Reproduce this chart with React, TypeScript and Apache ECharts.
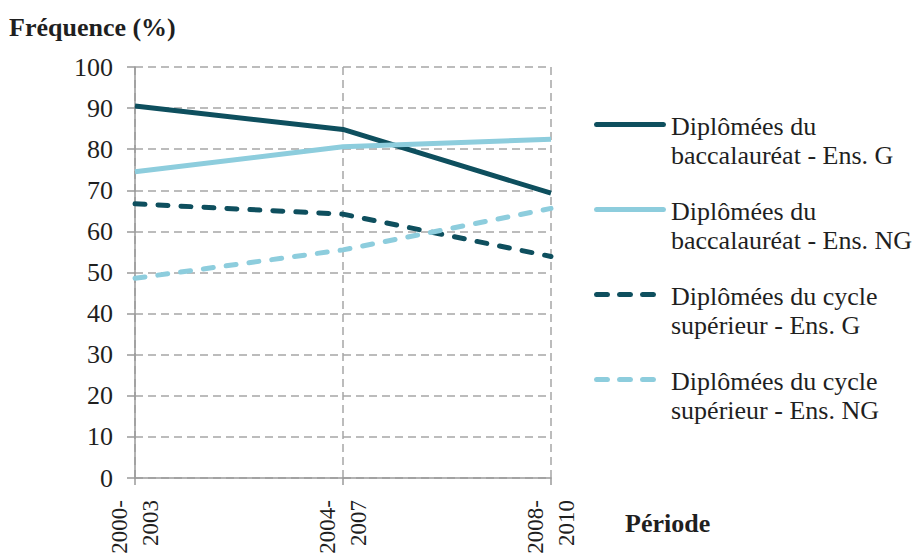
import React, { useEffect, useRef } from "react";
import * as echarts from "echarts";

const periods = ["2000-\n2003", "2004-\n2007", "2008-\n2010"];
const seriesNames = [
  "Diplômées du\nbaccalauréat - Ens. G",
  "Diplômées du\nbaccalauréat - Ens. NG",
  "Diplômées du cycle\nsupérieur - Ens. G",
  "Diplômées du cycle\nsupérieur - Ens. NG",
];
const bacG = [90.5, 84.8, 69.3];
const bacNG = [74.5, 80.6, 82.4];
const supG = [66.7, 64.2, 53.9];
const supNG = [48.6, 55.5, 65.6];

const DARK = "#0e4f5e";
const LIGHT = "#8dcddd";
const FONT = "Liberation Serif";
const TEXT = "#1f1f1f";

const BOX = "M0,0 L0.01,0 M72,58 L72.01,58 ";
const solidIcon = "path://" + BOX + "M2.5,10 H69.5 A2.5,2.5 0 0 1 69.5,15 H2.5 A2.5,2.5 0 0 1 2.5,10 Z";
const dashSeg = (a: number, b: number) =>
  `M${a + 2.5},10 H${b - 2.5} A2.5,2.5 0 0 1 ${b - 2.5},15 H${a + 2.5} A2.5,2.5 0 0 1 ${a + 2.5},10 Z `;
const dashedIcon = "path://" + BOX + dashSeg(0, 16) + dashSeg(23, 39) + dashSeg(46, 62);

export default function App() {
  const ref = useRef<HTMLDivElement>(null);
  useEffect(() => {
    if (!ref.current) return;
    const chart = echarts.init(ref.current, undefined, { renderer: "svg" });
    const lineSeries = (name: string, data: number[], color: string, dashed: boolean) => ({
      type: "line",
      name,
      data,
      symbol: "none",
      color,
      itemStyle: { color },
      lineStyle: {
        color,
        width: 5,
        type: dashed ? [10, 13] : "solid",
        cap: dashed ? "round" : "butt",
        join: "round",
      },
    });
    chart.setOption({
      animation: false,
      textStyle: { fontFamily: FONT },
      title: [
        {
          text: "Fréquence (%)",
          left: 9,
          top: 13,
          padding: 0,
          textStyle: { fontFamily: FONT, fontSize: 26, fontWeight: "bold", color: TEXT, lineHeight: 28 },
        },
        {
          text: "Période",
          left: 625,
          top: 509,
          padding: 0,
          textStyle: { fontFamily: FONT, fontSize: 26, fontWeight: "bold", color: TEXT, lineHeight: 28 },
        },
      ],
      grid: { left: 135, right: 368, top: 67, bottom: 76, containLabel: false, outerBoundsMode: "none" },
      legend: {
        orient: "vertical",
        left: 594,
        top: 112,
        itemWidth: 72,
        itemHeight: 58,
        itemGap: 27,
        padding: 0,
        selectedMode: false,
        itemStyle: { borderWidth: 0 },
        textStyle: { fontFamily: FONT, fontSize: 26, lineHeight: 29, color: TEXT },
        data: [
          { name: seriesNames[0], icon: solidIcon },
          { name: seriesNames[1], icon: solidIcon },
          { name: seriesNames[2], icon: dashedIcon },
          { name: seriesNames[3], icon: dashedIcon },
        ],
      },
      xAxis: {
        type: "category",
        data: periods,
        boundaryGap: false,
        axisLine: { lineStyle: { color: "#9a9a9a", width: 1.5 } },
        axisTick: { show: true, length: 7, alignWithLabel: true, lineStyle: { color: "#9a9a9a", width: 1.5 } },
        axisLabel: {
          rotate: 90,
          margin: 22,
          fontFamily: FONT,
          fontSize: 23,
          lineHeight: 31,
          color: TEXT,
        },
        splitLine: { show: true, lineStyle: { color: "#a6a6a6", width: 1.5, type: [8, 5] } },
      },
      yAxis: {
        type: "value",
        min: 0,
        max: 100,
        interval: 10,
        axisLine: { show: true, lineStyle: { color: "#9a9a9a", width: 1.5 } },
        axisTick: { show: true, length: 8, lineStyle: { color: "#9a9a9a", width: 1.5 } },
        axisLabel: { margin: 22, fontFamily: FONT, fontSize: 26, color: TEXT },
        splitLine: { show: true, lineStyle: { color: "#a6a6a6", width: 1.5, type: [8, 5] } },
      },
      series: [
        lineSeries(seriesNames[0], bacG, DARK, false),
        lineSeries(seriesNames[1], bacNG, LIGHT, false),
        lineSeries(seriesNames[2], supG, DARK, true),
        lineSeries(seriesNames[3], supNG, LIGHT, true),
      ],
    });
    return () => chart.dispose();
  }, []);
  return <div ref={ref} style={{ width: 919, height: 554, position: "absolute", left: 0, top: 0 }} />;
}
